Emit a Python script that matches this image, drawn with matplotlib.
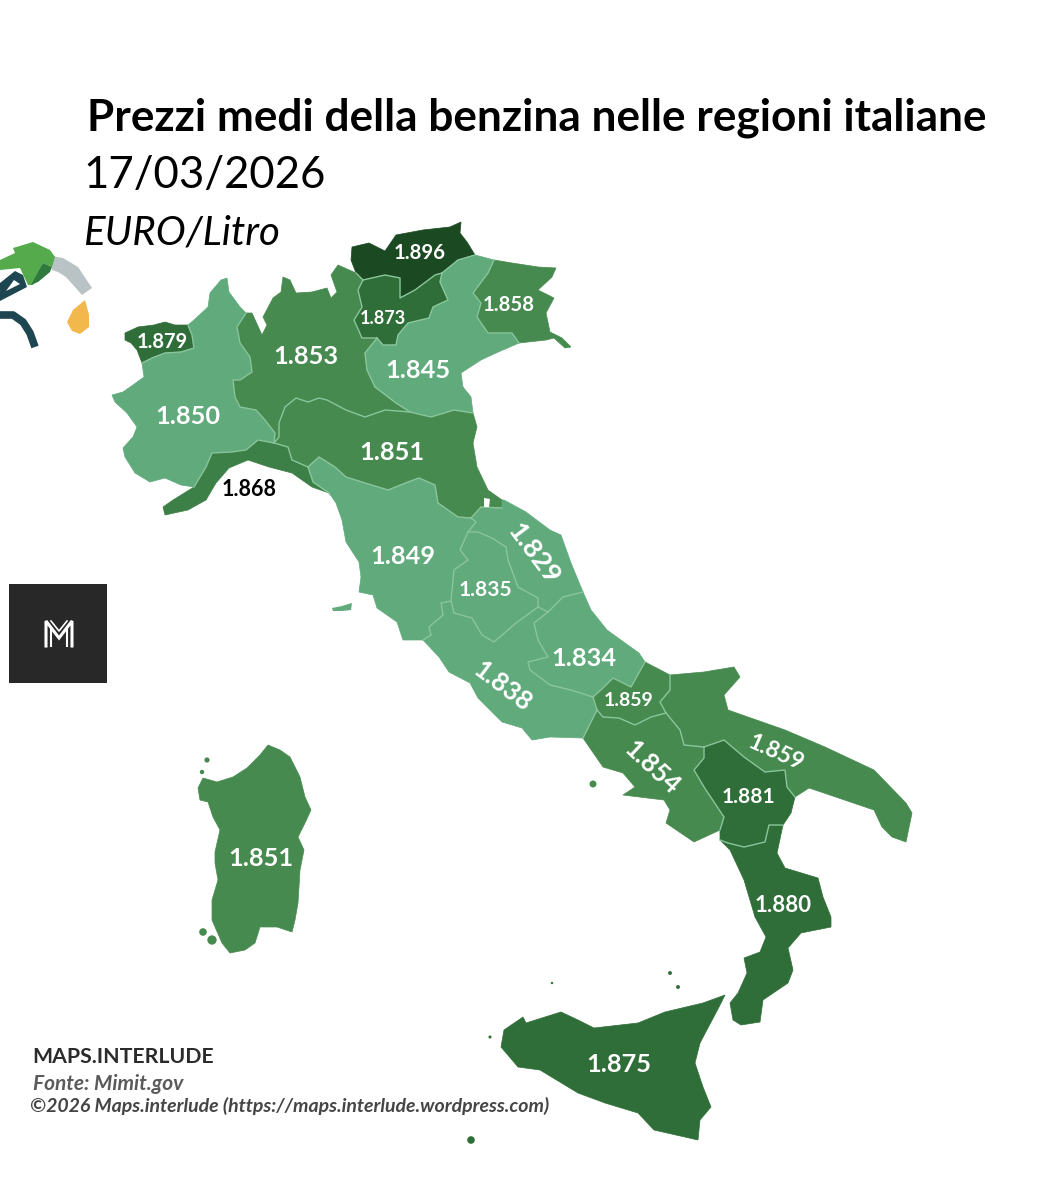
import matplotlib
matplotlib.use("Agg")
import matplotlib.pyplot as plt
from matplotlib.colors import BoundaryNorm, ListedColormap
from matplotlib.patches import Rectangle

plt.rcParams["font.family"] = ["Lato", "DejaVu Sans"]

# prices
regions = ["Valle d'Aosta", "Piemonte", "Lombardia", "Bolzano", "Trento", "Veneto", "Friuli",
           "Liguria", "Emilia-Romagna", "Toscana", "Umbria", "Marche", "Lazio", "Abruzzo",
           "Molise", "Campania", "Puglia", "Basilicata", "Calabria", "Sicilia", "Sardegna"]
prices = [1.879, 1.850, 1.853, 1.896, 1.873, 1.845, 1.858,
          1.868, 1.851, 1.849, 1.835, 1.829, 1.838, 1.834,
          1.859, 1.854, 1.859, 1.881, 1.880, 1.875, 1.851]

label_x = [162, 188, 306, 420, 383, 418, 509, 249, 392, 403, 485, 534, 502, 584, 629, 652, 776, 748, 783, 619, 261]
label_y = [342, 416, 357, 253, 318, 371, 305, 490, 453, 556, 590, 554, 686, 658, 701, 768, 753, 797, 905, 1065, 858]
label_size = [14.5, 18.3, 18.3, 14.7, 13, 18.3, 14.7, 15.5, 18.3, 18.3, 15, 19.5, 18.5, 18.3, 14, 18.5, 16.5, 15, 16, 18.3, 18.3]
label_rot = [0, 0, 0, 0, 0, 0, 0, 0, 0, 0, 0, -53, -37, 0, 0, -43, -24, 0, 0, 0, 0]

bins = [1.82, 1.8505, 1.86, 1.87, 1.89, 1.90]
bin_colors = ["#60aa7c", "#468a4f", "#3d8047", "#2f6e38", "#1b4a22"]
border_color = "#8ac59c"

# shared borders
b_aos_pie = [(188, 325), (192, 335), (194, 348), (181, 352), (165, 353), (152, 358), (142, 363)]
b_pie_lom = [(246, 313), (237, 327), (240, 343), (250, 357), (252, 372), (240, 380), (233, 380), (235, 397),
             (240, 407), (256, 410), (265, 420), (275, 433), (274, 443)]
b_pie_lig = [(274, 443), (258, 440), (246, 450), (231, 452), (212, 453), (206, 467), (200, 477), (194, 487)]
b_lom_bol = [(356, 273), (363, 280)]
b_lom_tre = [(363, 280), (358, 290), (362, 307), (354, 320), (362, 338), (377, 338)]
b_lom_ven = [(377, 338), (365, 353), (367, 370), (375, 387), (396, 403), (410, 412)]
b_lom_emi = [(410, 412), (385, 410), (365, 417), (346, 410), (327, 400), (319, 398), (308, 402), (296, 398),
             (285, 407), (279, 423), (279, 437), (274, 443)]
b_bol_ven = [(475, 255), (458, 260), (442, 273)]
b_bol_tre = [(442, 273), (435, 275), (415, 290), (400, 298), (400, 278), (385, 275), (363, 280)]
b_tre_ven = [(442, 273), (440, 282), (448, 300), (433, 307), (429, 318), (408, 323), (398, 335), (396, 345),
             (383, 345), (377, 338)]
b_ven_fri = [(494, 260), (488, 273), (473, 293), (481, 303), (477, 317), (488, 333), (512, 333), (519, 343)]
b_ven_emi = [(473, 413), (454, 410), (431, 417), (410, 412)]
b_lig_emi = [(274, 443), (288, 447), (292, 460), (308, 467)]
b_lig_tos = [(329, 493), (313, 482), (308, 467)]
b_emi_tos = [(308, 467), (319, 457), (335, 467), (346, 477), (365, 483), (388, 490), (408, 482), (419, 478),
             (435, 485), (438, 503), (458, 517), (471, 518)]
b_mar_emi = [(502, 508), (481, 507), (471, 518)]
b_tos_mar = [(471, 518), (476, 522), (468, 532)]
b_tos_umb = [(468, 532), (460, 550), (468, 560), (454, 570), (451, 601)]
b_tos_laz = [(451, 601), (441, 603), (443, 615), (429, 627), (431, 635), (423, 640)]
b_umb_mar = [(468, 532), (478, 532), (492, 538), (506, 547), (508, 560), (518, 587), (538, 598), (538, 607)]
b_umb_laz = [(538, 607), (516, 623), (494, 642), (482, 635), (472, 618), (454, 613), (451, 601)]
b_mar_laz = [(538, 607), (548, 612)]
b_mar_abr = [(548, 612), (563, 597), (583, 592)]
b_laz_abr = [(548, 612), (534, 623), (538, 640), (548, 657), (528, 662), (530, 670), (550, 685), (571, 690), (593, 697)]
b_laz_mol = [(593, 697), (597, 710)]
b_laz_cam = [(597, 710), (593, 718), (583, 738)]
b_abr_mol = [(593, 697), (603, 688), (613, 678), (631, 687), (645, 662)]
b_mol_pug = [(670, 675), (670, 690), (660, 702), (666, 713)]
b_mol_cam = [(666, 713), (651, 717), (635, 725), (619, 718), (603, 717), (597, 710)]
b_pug_bas = [(795, 797), (787, 787), (785, 770), (765, 772), (744, 757), (724, 740), (704, 747)]
b_pug_cam = [(704, 747), (684, 745), (680, 730), (666, 713)]
b_bas_cam = [(704, 747), (704, 758), (694, 770), (704, 787), (724, 817), (720, 830)]
b_bas_cal = [(783, 825), (769, 825), (765, 842), (744, 847), (728, 843), (720, 840)]

borders = [b_aos_pie, b_pie_lom, b_pie_lig, b_lom_bol, b_lom_tre, b_lom_ven, b_lom_emi, b_bol_ven, b_bol_tre,
           b_tre_ven, b_ven_fri, b_ven_emi, b_lig_emi, b_lig_tos, b_emi_tos, b_mar_emi, b_tos_mar, b_tos_umb,
           b_tos_laz, b_umb_mar, b_umb_laz, b_mar_laz, b_mar_abr, b_laz_abr, b_laz_mol, b_laz_cam, b_abr_mol,
           b_mol_pug, b_mol_cam, b_pug_bas, b_pug_cam, b_bas_cam, b_bas_cal]

# outer edges
c_aos = [(142, 363), (137, 350), (131, 343), (125, 340), (125, 333), (138, 327), (154, 325), (165, 322), (175, 325), (188, 325)]
c_pie_n = [(188, 325), (194, 320), (208, 307), (210, 293), (221, 280), (227, 278), (229, 292), (240, 307), (246, 313)]
c_pie_w = [(194, 487), (181, 485), (165, 478), (150, 482), (135, 473), (125, 457), (123, 448), (133, 437), (137, 427),
           (127, 413), (115, 402), (112, 395), (123, 392), (133, 385), (144, 377), (142, 363)]
c_lom_n = [(246, 313), (252, 313), (262, 335), (267, 325), (263, 317), (273, 298), (281, 292), (283, 277), (290, 280),
           (296, 293), (312, 292), (327, 288), (331, 298), (337, 292), (331, 275), (338, 265), (356, 273)]
c_bol_n = [(356, 273), (351, 260), (352, 247), (369, 243), (385, 251), (396, 235), (423, 230), (450, 227), (461, 222),
           (460, 233), (467, 242), (475, 255)]
c_ven_n = [(475, 255), (494, 260)]
c_ven_s = [(519, 343), (496, 353), (481, 360), (461, 373), (463, 387), (471, 397), (473, 413)]
c_fri = [(494, 260), (512, 263), (538, 267), (556, 268), (552, 277), (538, 290), (554, 298), (546, 313), (550, 332),
         (562, 338), (571, 347), (565, 348), (554, 338), (546, 340), (519, 343)]
c_emi = [(473, 413), (477, 427), (473, 443), (477, 467), (488, 490), (502, 500), (502, 508)]
c_lig = [(194, 487), (173, 500), (163, 507), (165, 515), (188, 510), (206, 500), (216, 483), (229, 468), (248, 460),
         (269, 467), (292, 473), (312, 487), (329, 493)]
c_tos = [(329, 493), (336, 503), (342, 520), (346, 542), (359, 562), (361, 577), (359, 592), (373, 595), (377, 608),
         (397, 622), (403, 640), (423, 640)]
c_mar = [(502, 500), (504, 500), (526, 512), (550, 530), (561, 535), (571, 563), (583, 592)]
c_laz = [(423, 640), (439, 657), (449, 672), (470, 683), (478, 698), (502, 722), (522, 728), (532, 740), (550, 737), (583, 738)]
c_abr = [(583, 592), (591, 610), (607, 630), (639, 653), (645, 662)]
c_mol = [(645, 662), (670, 675)]
c_pug = [(670, 675), (704, 672), (734, 667), (740, 677), (724, 695), (728, 710), (785, 730), (825, 747), (874, 770),
         (906, 803), (912, 813), (906, 842), (892, 837), (882, 827), (874, 810), (821, 792), (809, 788), (795, 797)]
c_cam = [(583, 738), (603, 767), (623, 773), (635, 787), (623, 795), (664, 800), (670, 810), (666, 823), (694, 842), (720, 830)]
c_bas = [(795, 797), (791, 813), (783, 825)]
c_bas_w = [(720, 840), (720, 830)]
c_cal = [(720, 840), (730, 850), (744, 880), (755, 917), (766, 937), (760, 952), (744, 958), (747, 973), (738, 993),
         (730, 1003), (733, 1020), (741, 1025), (760, 1022), (763, 1000), (788, 983), (793, 970), (788, 948), (801, 933),
         (831, 927), (831, 917), (823, 897), (818, 878), (785, 868), (777, 853), (783, 825)]
sicily = [(725, 995), (703, 1003), (665, 1012), (638, 1023), (594, 1028), (578, 1020), (561, 1012), (545, 1017), (526, 1023),
          (523, 1017), (504, 1030), (501, 1047), (518, 1067), (540, 1070), (578, 1093), (605, 1103), (638, 1113), (654, 1130),
          (698, 1140), (700, 1120), (711, 1107), (703, 1087), (695, 1063), (700, 1043), (719, 1007)]
sardinia = [(198, 788), (203, 778), (217, 782), (233, 777), (247, 768), (260, 755), (268, 745), (280, 750), (290, 757),
            (295, 767), (300, 777), (305, 797), (311, 810), (305, 823), (298, 837), (304, 850), (300, 870), (298, 903),
            (295, 920), (292, 932), (277, 927), (260, 927), (255, 943), (245, 950), (230, 953), (222, 943), (212, 920),
            (212, 900), (218, 880), (215, 863), (215, 852), (220, 830), (213, 817), (208, 802), (200, 800)]
san_marino = [(484, 498), (490, 499), (489, 507), (484, 507)]
elba = [(332, 608), (342, 606), (352, 603), (351, 610), (342, 611), (333, 611)]

# small islands: x, y, colour index by region price
isle_x = [207, 202, 203, 212, 593, 471, 670, 678, 490, 552]
isle_y = [760, 772, 932, 940, 784, 1140, 973, 987, 1037, 983]
isle_size = [14, 10, 30, 45, 25, 30, 8, 8, 5, 3]
isle_price = [1.851, 1.851, 1.851, 1.851, 1.854, 1.875, 1.875, 1.875, 1.875, 1.875]


def rev(line):
    return line[::-1]


outlines = {
    "Valle d'Aosta": b_aos_pie + c_aos,
    "Piemonte": c_pie_n + b_pie_lom + b_pie_lig + c_pie_w + rev(b_aos_pie),
    "Lombardia": c_lom_n + b_lom_bol + b_lom_tre + b_lom_ven + b_lom_emi + rev(b_pie_lom),
    "Bolzano": c_bol_n + b_bol_ven + b_bol_tre + rev(b_lom_bol),
    "Trento": rev(b_bol_tre) + b_tre_ven + rev(b_lom_tre),
    "Veneto": rev(b_bol_ven) + c_ven_n + b_ven_fri + c_ven_s + b_ven_emi + rev(b_lom_ven) + rev(b_tre_ven),
    "Friuli": c_fri + rev(b_ven_fri),
    "Liguria": b_pie_lig + c_lig + b_lig_tos + rev(b_lig_emi),
    "Emilia-Romagna": b_lig_emi + b_emi_tos + rev(b_mar_emi) + rev(c_emi) + b_ven_emi + b_lom_emi,
    "Toscana": b_emi_tos + b_tos_mar + b_tos_umb + b_tos_laz + rev(c_tos) + b_lig_tos,
    "Umbria": b_umb_mar + b_umb_laz + rev(b_tos_umb),
    "Marche": b_mar_emi + b_tos_mar + b_umb_mar + b_mar_laz + b_mar_abr + rev(c_mar),
    "Lazio": rev(b_tos_laz) + rev(b_umb_laz) + b_mar_laz + b_laz_abr + b_laz_mol + b_laz_cam + rev(c_laz),
    "Abruzzo": rev(b_mar_abr) + b_laz_abr + b_abr_mol + rev(c_abr),
    "Molise": b_abr_mol + c_mol + b_mol_pug + b_mol_cam + rev(b_laz_mol),
    "Campania": rev(b_mol_cam) + rev(b_pug_cam) + b_bas_cam + rev(c_cam) + rev(b_laz_cam),
    "Puglia": c_pug + b_pug_bas + b_pug_cam + rev(b_mol_pug),
    "Basilicata": rev(b_pug_bas) + c_bas + b_bas_cal + c_bas_w + rev(b_bas_cam),
    "Calabria": c_cal + b_bas_cal,
    "Sicilia": sicily,
    "Sardegna": sardinia,
}

fig = plt.figure(figsize=(10.47, 12), dpi=100)
ax = fig.add_axes([0, 0, 1, 1])
ax.set_xlim(0, 1047)
ax.set_ylim(1200, 0)
ax.axis("off")

cmap = ListedColormap(bin_colors)
norm = BoundaryNorm(bins, cmap.N)

for name, price in zip(regions, prices):
    xs, ys = zip(*outlines[name])
    ax.fill(xs, ys, color=cmap(norm(price)), lw=0.5, zorder=2)

for line in borders:
    xs, ys = zip(*line)
    ax.plot(xs, ys, color=border_color, lw=1, zorder=3, solid_joinstyle="round")

xs, ys = zip(*elba)
ax.fill(xs, ys, color=cmap(norm(1.849)), lw=0, zorder=2)
xs, ys = zip(*san_marino)
ax.fill(xs, ys, color="white", lw=0, zorder=4)
ax.scatter(isle_x, isle_y, s=isle_size, c=[cmap(norm(p)) for p in isle_price], lw=0, zorder=2)

for name, price, x, y, size, rot in zip(regions, prices, label_x, label_y, label_size, label_rot):
    color = "black" if name == "Liguria" else "white"
    ax.text(x, y, f"{price:.3f}", fontsize=size, color=color, fontweight="bold", ha="center", va="center",
            rotation=rot, rotation_mode="anchor", zorder=5)

# headings
ax.text(87, 118, "Prezzi medi della benzina nelle regioni italiane", fontsize=31.8, fontweight="bold",
        color="black", ha="left", va="center")
ax.text(83, 176, "17/03/2026", fontsize=31.5, color="black", ha="left", va="center")
ax.text(83, 233, "EURO/Litro", fontsize=29, style="italic", color="black", ha="left", va="center")

# footer
ax.text(32, 1057, "MAPS.INTERLUDE", fontsize=15.3, fontweight="bold", color="#2b2b2b", ha="left", va="center")
ax.text(33, 1084, "Fonte: Mimit.gov", fontsize=15, fontweight="bold", style="italic", color="#5a5a5a", ha="left", va="center")
ax.text(30, 1106, "©2026 Maps.interlude (https://maps.interlude.wordpress.com)", fontsize=14, fontweight="bold",
        style="italic", color="#454545", ha="left", va="center")

# logo box
ax.add_patch(Rectangle((9, 584), 98, 99, color="#282828", lw=0, zorder=2))
ax.plot([46, 46, 59, 72, 72], [646, 621, 638, 621, 646], color="white", lw=2.2, zorder=3, solid_joinstyle="miter")
ax.plot([51, 51], [628, 646], color="white", lw=1.5, zorder=3)
ax.plot([67, 67], [628, 646], color="white", lw=1.5, zorder=3)
ax.plot([51, 59, 67], [621, 631, 621], color="white", lw=1.2, zorder=3)

# fuel nozzle icon
hose = [(0, 315), (13, 315), (23, 322), (30, 333), (35, 347)]
xs, ys = zip(*hose)
ax.plot(xs, ys, color="#1e4650", lw=5.5, zorder=2, solid_capstyle="butt", solid_joinstyle="round")
trigger = [(0, 283), (15, 271), (23, 275), (27, 287), (0, 301)]
xs, ys = zip(*trigger)
ax.fill(xs, ys, color="#1e4650", lw=0, zorder=2)
ax.fill([14, 20, 6], [280, 284, 291], color="white", lw=0, zorder=2)
spout = [(52, 256), (63, 258), (78, 267), (92, 288), (82, 295), (66, 277), (58, 272), (52, 270)]
xs, ys = zip(*spout)
ax.fill(xs, ys, color="#b9c2c5", lw=0, zorder=3)
body = [(0, 260), (15, 253), (13, 248), (33, 242), (50, 250), (55, 257), (52, 267), (43, 263), (33, 285), (28, 285), (20, 268), (0, 270)]
xs, ys = zip(*body)
ax.fill(xs, ys, color="#55aa4c", lw=0, zorder=4)
shade = [(43, 263), (52, 267), (50, 272), (38, 282), (31, 285)]
xs, ys = zip(*shade)
ax.fill(xs, ys, color="#2f7a3c", lw=0, zorder=5)
drop = [(85, 300), (89, 315), (89, 327), (80, 334), (72, 331), (67, 322), (73, 310)]
xs, ys = zip(*drop)
ax.fill(xs, ys, color="#f2b84b", lw=0, zorder=3)

fig.savefig("out.png", dpi=100)
